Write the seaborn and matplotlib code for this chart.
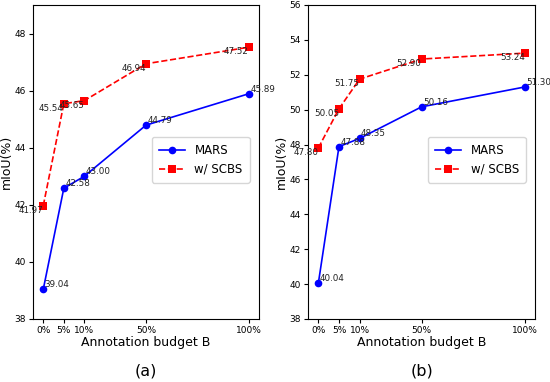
import matplotlib
matplotlib.use("Agg")
import matplotlib.pyplot as plt
import seaborn as sns
import pandas as pd

budgets = ["0%", "5%", "10%", "50%", "100%"]
budget_pos = [0, 1, 2, 5, 10]

mars_a = [39.04, 42.58, 43.00, 44.79, 45.89]
scbs_a = [41.97, 45.54, 45.65, 46.94, 47.52]
mars_b = [40.04, 47.88, 48.35, 50.16, 51.30]
scbs_b = [47.80, 50.05, 51.75, 52.90, 53.24]

panels = [
    ("(a)", mars_a, scbs_a, (38, 49), [38, 40, 42, 44, 46, 48]),
    ("(b)", mars_b, scbs_b, (38, 56), list(range(38, 57, 2))),
]

fig = plt.figure(figsize=(5.5, 3.82), dpi=100)
axes = [fig.add_axes([0.06, 0.165, 0.411, 0.822]),
        fig.add_axes([0.56, 0.165, 0.413, 0.822])]

for ax, (cap, mars, scbs, ylim, yticks) in zip(axes, panels):
    df = pd.DataFrame({"x": budget_pos, "MARS": mars, "w/ SCBS": scbs})
    sns.lineplot(data=df, x="x", y="MARS", ax=ax, color="b", marker="o",
                 markersize=5.5, markeredgewidth=0, linewidth=1.2, label="MARS")
    sns.lineplot(data=df, x="x", y="w/ SCBS", ax=ax, color="r", marker="s",
                 markersize=5.5, markeredgewidth=0, linewidth=1.2,
                 linestyle="--", label="w/ SCBS")
    for x, v in zip(budget_pos, mars):
        ax.annotate(f"{v:.2f}", (x, v), xytext=(1, 0), textcoords="offset points",
                    ha="left", va="bottom", fontsize=6.3, color="#222222")
    for x, v in zip(budget_pos, scbs):
        ax.annotate(f"{v:.2f}", (x, v), xytext=(0, 0), textcoords="offset points",
                    ha="right", va="top", fontsize=6.3, color="#222222")
    ax.set_xlim(-0.5, 10.5)
    ax.set_ylim(*ylim)
    ax.set_yticks(yticks)
    ax.set_xticks(budget_pos)
    ax.set_xticklabels(budgets)
    ax.tick_params(labelsize=6.5, length=3, pad=2)
    ax.set_xlabel("Annotation budget B", fontsize=9, labelpad=1)
    ax.set_ylabel("mIoU(%)", fontsize=9, labelpad=1)
    ax.legend(loc="lower right", bbox_to_anchor=(0.985, 0.415), fontsize=8.5,
              handlelength=2.2, borderpad=0.6, labelspacing=0.5)
    pos = ax.get_position()
    fig.text(pos.x0 + pos.width / 2, 0.03, cap, ha="center", va="center", fontsize=11.5)

fig.savefig("out.png", dpi=100)
